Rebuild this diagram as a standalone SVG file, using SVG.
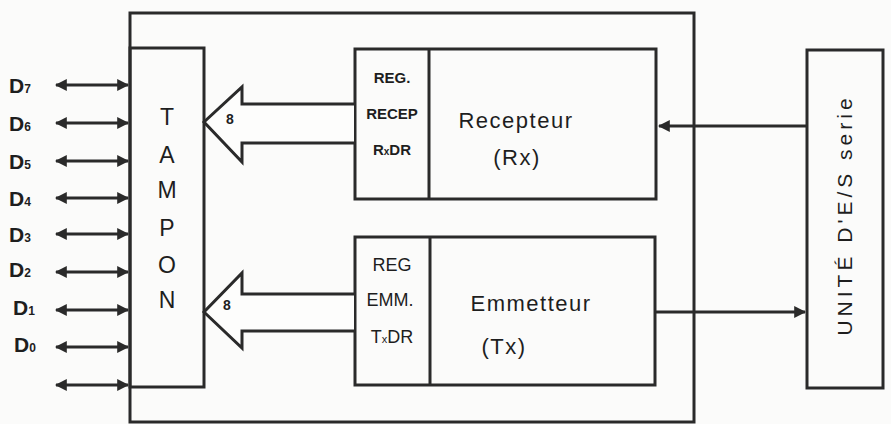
<svg xmlns="http://www.w3.org/2000/svg" width="891" height="424" viewBox="0 0 891 424">
<defs>
<style>
.box{fill:none;stroke:#2a2a2a;stroke-width:3}
.ln{fill:none;stroke:#2a2a2a;stroke-width:3}
.big{fill:#fdfdfc;stroke:#2a2a2a;stroke-width:3;stroke-linejoin:miter}
.t{font-family:"Liberation Sans",Arial,sans-serif;fill:#1e1e1e}
.b{font-weight:bold}
.d{font-size:21px;font-weight:bold}
.m{font-size:22px;letter-spacing:1.5px}
</style>
<marker id="ah" viewBox="0 0 10 10" refX="9" refY="5" markerWidth="4" markerHeight="4" orient="auto-start-reverse" markerUnits="strokeWidth">
<path d="M0,0 L10,5 L0,10 Z" fill="#2a2a2a"/>
</marker>
</defs>
<rect width="891" height="424" fill="#fbfbfa"/>

<g id="outer"><rect class="box" x="130" y="13" width="564" height="409"/></g>

<g id="tampon">
<rect class="box" x="130" y="48" width="74" height="339"/>
<g class="t" font-size="23" text-anchor="middle">
<text x="167" y="125">T</text>
<text x="167" y="163">A</text>
<text x="167" y="198">M</text>
<text x="167" y="236">P</text>
<text x="167" y="273">O</text>
<text x="167" y="308">N</text>
</g>
</g>

<g id="recepteur">
<rect class="box" x="355" y="49" width="301" height="150"/>
<line class="ln" x1="429" y1="49" x2="429" y2="199"/>
<g class="t b" font-size="15" text-anchor="middle">
<text x="392" y="83">REG.</text>
<text x="392" y="119">RECEP</text>
<text x="392" y="155">R<tspan font-size="10">x</tspan>DR</text>
</g>
<text class="t m" x="516" y="128" text-anchor="middle">Recepteur</text>
<text class="t m" x="517" y="165" text-anchor="middle">(Rx)</text>
</g>

<g id="emetteur">
<rect class="box" x="355" y="237" width="300" height="148"/>
<line class="ln" x1="430" y1="237" x2="430" y2="385"/>
<g class="t" font-size="18" text-anchor="middle">
<text x="392" y="271">REG</text>
<text x="390" y="306">EMM.</text>
<text x="392" y="343">T<tspan font-size="11">x</tspan>DR</text>
</g>
<text class="t m" x="531" y="311" text-anchor="middle">Emmetteur</text>
<text class="t m" x="504" y="354" text-anchor="middle">(Tx)</text>
</g>

<g id="unite">
<rect class="box" x="807" y="50" width="76" height="338"/>
<text class="t" font-size="21" letter-spacing="4" text-anchor="middle" transform="translate(852,215) rotate(-90)">UNITÉ D'E/S serie</text>
</g>

<g id="connectors">
<path class="big" d="M354,104 L242,104 L242,87 L204,122 L242,162 L242,143 L354,143"/>
<text class="t b" font-size="14" x="230" y="124" text-anchor="middle">8</text>
<path class="big" d="M354,294 L242,294 L242,273 L204,312 L242,348 L242,331 L354,331"/>
<text class="t b" font-size="14" x="227" y="310" text-anchor="middle">8</text>

<line class="ln" x1="807" y1="126" x2="659" y2="126" marker-end="url(#ah)"/>
<line class="ln" x1="655" y1="312" x2="805" y2="312" marker-end="url(#ah)"/>

<g marker-start="url(#ah)" marker-end="url(#ah)">
<line class="ln" x1="56" y1="85" x2="128" y2="85"/>
<line class="ln" x1="56" y1="123" x2="128" y2="123"/>
<line class="ln" x1="56" y1="161" x2="128" y2="161"/>
<line class="ln" x1="56" y1="198" x2="128" y2="198"/>
<line class="ln" x1="56" y1="234" x2="128" y2="234"/>
<line class="ln" x1="56" y1="272" x2="128" y2="272"/>
<line class="ln" x1="56" y1="310" x2="128" y2="310"/>
<line class="ln" x1="56" y1="347" x2="128" y2="347"/>
<line class="ln" x1="56" y1="385" x2="128" y2="385"/>
</g>
</g>

<g id="labels" class="t d">
<text x="9" y="93">D<tspan font-size="12">7</tspan></text>
<text x="9" y="131">D<tspan font-size="12">6</tspan></text>
<text x="9" y="169">D<tspan font-size="12">5</tspan></text>
<text x="9" y="206">D<tspan font-size="12">4</tspan></text>
<text x="9" y="242">D<tspan font-size="12">3</tspan></text>
<text x="9" y="277">D<tspan font-size="12">2</tspan></text>
<text x="13" y="315">D<tspan font-size="12">1</tspan></text>
<text x="14" y="352">D<tspan font-size="12">0</tspan></text>
</g>
</svg>
